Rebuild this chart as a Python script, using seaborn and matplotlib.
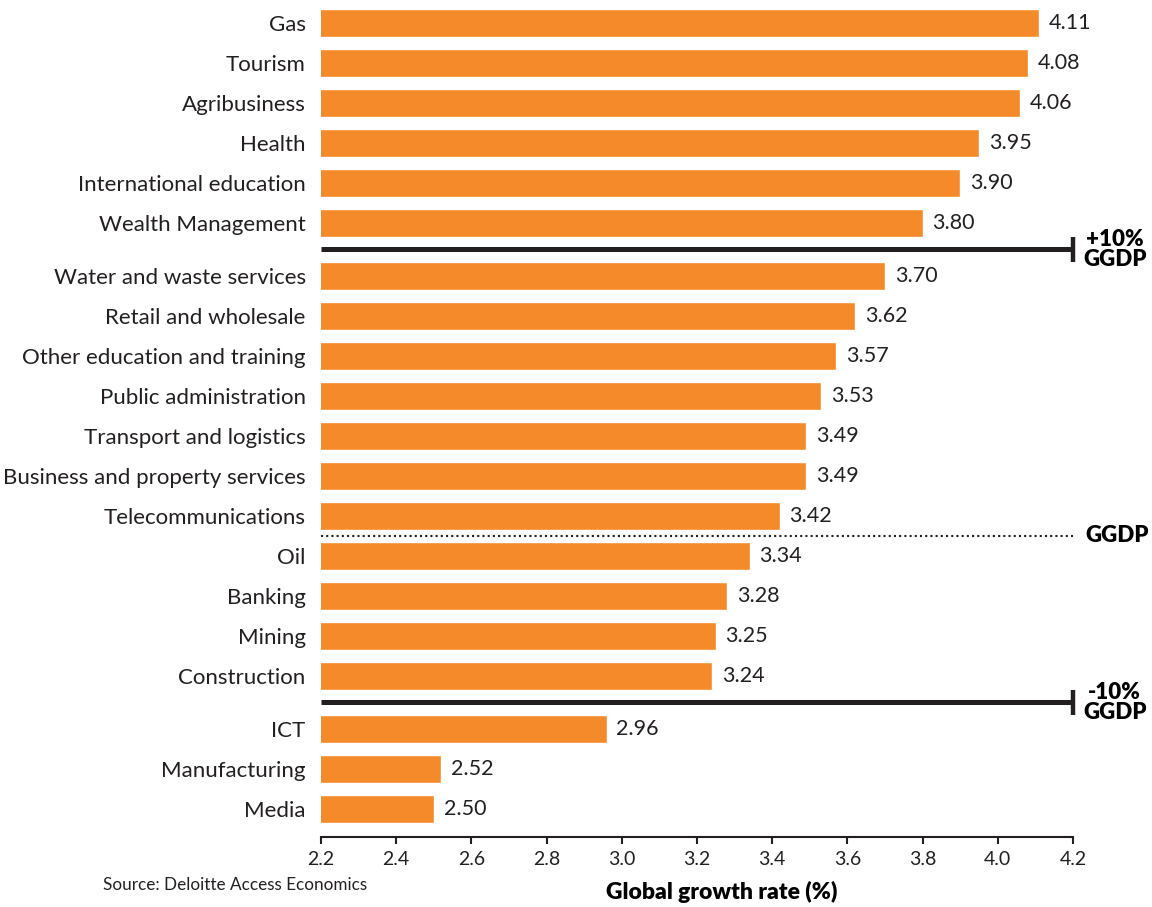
import numpy as np
import matplotlib
matplotlib.use("Agg")
import matplotlib.pyplot as plt
import matplotlib.transforms as mtrans
import seaborn as sns

categories = ["Gas", "Tourism", "Agribusiness", "Health", "International education",
              "Wealth Management", "Water and waste services", "Retail and wholesale",
              "Other education and training", "Public administration",
              "Transport and logistics", "Business and property services",
              "Telecommunications", "Oil", "Banking", "Mining", "Construction",
              "ICT", "Manufacturing", "Media"]
values = [4.11, 4.08, 4.06, 3.95, 3.90, 3.80, 3.70, 3.62, 3.57, 3.53, 3.49, 3.49,
          3.42, 3.34, 3.28, 3.25, 3.24, 2.96, 2.52, 2.50]
# band: 0 = above +10% GGDP, 1 = within +/-10% GGDP, 2 = below -10% GGDP
band = [0]*6 + [1]*11 + [2]*3
xticks = [2.2, 2.4, 2.6, 2.8, 3.0, 3.2, 3.4, 3.6, 3.8, 4.0, 4.2]

ORANGE = "#F58A2A"
DARK = "#231F20"
GAP = 0.33

sns.set_theme(style="white")
plt.rcParams['font.family'] = ['Lato', 'DejaVu Sans']

pos = np.arange(len(values)) + np.array(band) * GAP

fig = plt.figure(figsize=(11.52, 9.07), dpi=100)
ax = fig.add_axes([321/1152, 1-837/907, (1073-321)/1152, 837/907])

sns.barplot(x=values, y=pos, orient="h", native_scale=True, color=ORANGE,
            saturation=1, width=0.7, errorbar=None, ax=ax)
for c in ax.containers:
    ax.bar_label(c, labels=[f"{v:.2f}" for v in values], padding=7,
                 fontsize=15.5, color=DARK)

ax.set_xlim(2.2, 4.2)
ax.set_ylim(pos[-1] + 0.7, pos[0] - 0.575)
ax.set_xticks(xticks)
ax.set_xticklabels([f"{t:.1f}" for t in xticks], fontsize=14, color=DARK)
ax.set_yticks(pos)
ax.set_yticklabels(categories, fontsize=16, color=DARK)
ax.tick_params(axis="y", length=0, pad=11)
ax.tick_params(axis="x", length=5, width=1.5, color=DARK, pad=5, bottom=True,
               direction="out")
for s in ["top", "right", "left"]:
    ax.spines[s].set_visible(False)
ax.spines["bottom"].set_color(DARK)
ax.spines["bottom"].set_linewidth(1.5)

tr = mtrans.blended_transform_factory(fig.transFigure, ax.transData)

# separators
y_hi = (pos[5] + pos[6]) / 2
y_mid = (pos[12] + pos[13]) / 2
y_lo = (pos[16] + pos[17]) / 2
for y, lab in [(y_hi, "+10%\nGGDP"), (y_lo, "-10%\nGGDP")]:
    ax.plot([2.2, 4.2], [y, y], color=DARK, lw=3.6, solid_capstyle="butt",
            clip_on=False)
    ax.plot([4.2, 4.2], [y - 0.31, y + 0.31], color=DARK, lw=3.2,
            solid_capstyle="butt", clip_on=False)
    ax.text(1083/1152, y, lab, transform=tr, ha="left", va="center",
            multialignment="center", fontsize=16, fontweight="heavy",
            color="black", linespacing=0.95)
ax.plot([2.2, 4.2], [y_mid, y_mid], color=DARK, lw=1.5, ls=(0, (1, 1.5)),
        clip_on=False)
ax.text(1085/1152, y_mid, "GGDP", transform=tr, ha="left", va="center",
        fontsize=16, fontweight="heavy", color="black")

ax.set_xlabel("Global growth rate (%)", fontsize=16.5, fontweight="heavy", color="black")
ax.xaxis.set_label_coords(0.533, -0.052)
fig.text(103/1152, 1-885/907, "Source: Deloitte Access Economics", fontsize=12.3,
         color=DARK, ha="left", va="center")

fig.savefig("out.png", dpi=100)
